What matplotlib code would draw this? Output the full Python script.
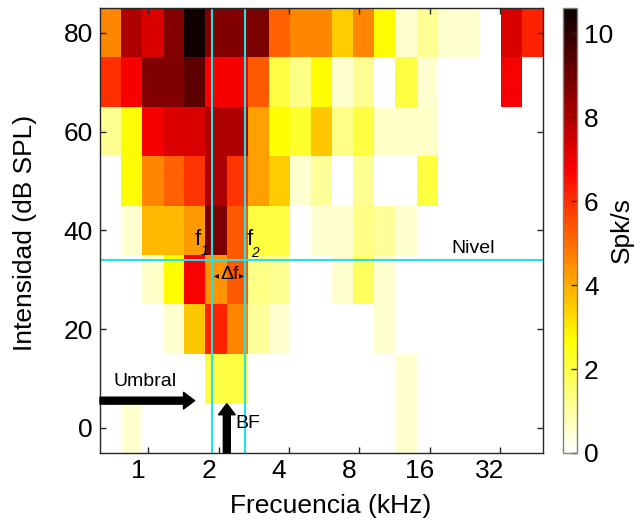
import numpy as np
import matplotlib.pyplot as plt
from matplotlib.ticker import NullLocator
from matplotlib.transforms import ScaledTranslation

plt.rcParams['font.family'] = ['Liberation Sans', 'DejaVu Sans']

# tone frequencies (kHz), 0.3 octave apart, and sound levels (dB SPL)
freqs_khz = [0.69, 0.85, 1.05, 1.29, 1.58, 1.95, 2.40, 2.96, 3.64, 4.48, 5.51,
             6.79, 8.36, 10.3, 12.7, 15.6, 19.2, 23.6, 29.1, 35.8, 44.1]
levels_db = [0, 10, 20, 30, 40, 50, 60, 70, 80]

# firing rate (spikes/s) at each level, one value per frequency
rate_0db = [0, 0.5, 0, 0, 0, 0, 0, 0, 0, 0, 0, 0, 0, 0, 0.5, 0, 0, 0, 0, 0, 0]
rate_10db = [0, 0, 0, 0, 0, 2.0, 2.0, 0, 0, 0, 0, 0, 0, 0, 0.5, 0, 0, 0, 0, 0, 0]
rate_20db = [0, 0, 0, 0.5, 3.6, 6.2, 4.6, 1.1, 0.5, 0, 0, 0, 0, 0.5, 0, 0, 0, 0, 0, 0, 0]
rate_30db = [0, 0, 0.6, 2.7, 6.8, 4.4, 5.3, 1.3, 1.2, 0, 0, 0.5, 1.7, 0.5, 0, 0, 0, 0, 0, 0, 0]
rate_40db = [0, 0.5, 3.8, 3.8, 4.3, 8.8, 5.3, 2.0, 2.0, 0, 0.5, 0.5, 1.3, 1.1, 0.5, 0, 0, 0, 0, 0, 0]
rate_50db = [0, 2.7, 4.6, 5.2, 5.9, 8.0, 5.9, 4.2, 3.5, 0.5, 1.1, 0, 1.2, 0, 0, 2.0, 0, 0, 0, 0, 0]
rate_60db = [1.2, 2.7, 6.8, 7.3, 7.3, 8.0, 8.0, 4.2, 2.7, 2.2, 3.6, 1.3, 2.0, 0.6, 0.6, 0.6, 0, 0, 0, 0, 0]
rate_70db = [6.0, 6.8, 8.7, 8.7, 9.3, 6.8, 6.8, 5.3, 2.0, 1.3, 2.7, 0.5, 1.2, 0, 2.0, 0.5, 0, 0, 0, 6.8, 0]
rate_80db = [4.6, 8.0, 7.3, 8.7, 10.5, 8.7, 8.7, 8.8, 5.2, 4.6, 4.6, 3.5, 4.6, 2.7, 0.5, 1.2, 0.5, 0.5, 0, 7.3, 6.2]

# bandwidth markers
f1_khz, f2_khz = 1.88, 2.59
nivel_db = 34
bf_khz = 2.17
umbral_db = 5.5

rates = np.array([rate_0db, rate_10db, rate_20db, rate_30db, rate_40db,
                  rate_50db, rate_60db, rate_70db, rate_80db])

# cell edges: geometric midpoints between frequencies, 5 dB around each level
log_f = np.log2(freqs_khz)
mids = (log_f[:-1] + log_f[1:]) / 2
x_edges = 2 ** np.concatenate([[2 * log_f[0] - mids[0]], mids, [2 * log_f[-1] - mids[-1]]])
lv = np.array(levels_db, dtype=float)
y_edges = np.concatenate([[lv[0] - 5], (lv[:-1] + lv[1:]) / 2, [lv[-1] + 5]])

fig = plt.figure(figsize=(6.43, 5.32), dpi=100)
ax = fig.add_axes([0.1555, 0.1494, 0.689, 0.8355])
cax = fig.add_axes([0.8756, 0.1485, 0.0218, 0.8365])

mesh = ax.pcolormesh(x_edges, y_edges, rates, cmap='hot_r', vmin=0, vmax=10.6)
ax.set_xscale('log', base=2)
ax.set_xlim(x_edges[0], x_edges[-1])
ax.set_ylim(y_edges[0], y_edges[-1])

ax.set_xticks([1, 2, 4, 8, 16, 32])
ax.set_xticklabels(['1', '2', '4', '8', '16', '32'])
ax.xaxis.set_minor_locator(NullLocator())
ax.set_yticks([0, 20, 40, 60, 80])
ax.tick_params(direction='in', length=4, width=1, top=True, right=True,
               labelsize=19, pad=5, colors='#262626', labelcolor='black')
# frequency labels sit a little left of their ticks
shift = ScaledTranslation(-0.10, 0, fig.dpi_scale_trans)
for lab in ax.get_xticklabels():
    lab.set_transform(lab.get_transform() + shift)
for sp in ax.spines.values():
    sp.set_linewidth(1.0)
    sp.set_color('#262626')

ax.set_xlabel('Frecuencia (kHz)', fontsize=19)
ax.xaxis.set_label_coords(0.52, -0.093)
ax.set_ylabel('Intensidad (dB SPL)', fontsize=19)
ax.yaxis.set_label_coords(-0.143, 0.494)

# bandwidth lines
cyan = '#22e2ea'
ax.axvline(f1_khz, color=cyan, lw=1.5)
ax.axvline(f2_khz, color=cyan, lw=1.5)
ax.axhline(nivel_db, color=cyan, lw=1.5)

ax.text(1.63, 38.2, 'f', fontsize=16, ha='center', va='center')
ax.text(1.75, 35.9, '1', fontsize=10, style='italic', ha='center', va='center')
ax.text(2.72, 38.2, 'f', fontsize=16, ha='center', va='center')
ax.text(2.87, 35.3, '2', fontsize=10, style='italic', ha='center', va='center')
ax.text(2.22, 31.0, 'Δf', fontsize=14, ha='center', va='center')
ax.text(1.96, 31.0, '◂', fontsize=7, ha='center', va='center', family='DejaVu Sans')
ax.text(2.50, 31.0, '▸', fontsize=7, ha='center', va='center', family='DejaVu Sans')
ax.text(24.6, 36.3, 'Nivel', fontsize=14, ha='center', va='center')

# threshold and best-frequency arrows
arrow = dict(facecolor='black', edgecolor='black', width=5, headwidth=12,
             headlength=8, shrink=0)
ax.annotate('', xy=(1.58, umbral_db), xytext=(x_edges[0], umbral_db),
            arrowprops=arrow, annotation_clip=False)
ax.annotate('', xy=(bf_khz, 4.9), xytext=(bf_khz, y_edges[0]),
            arrowprops=arrow, annotation_clip=False)
ax.text(0.713, 9.3, 'Umbral', fontsize=14, ha='left', va='center')
ax.text(2.35, 0.8, 'BF', fontsize=14, ha='left', va='center')

cbar = fig.colorbar(mesh, cax=cax, ticks=[0, 2, 4, 6, 8, 10])
cbar.outline.set_edgecolor('#808080')
cbar.outline.set_linewidth(1.0)
cax.tick_params(direction='in', length=4, width=1, labelsize=19, pad=5,
                colors='#262626', labelcolor='black')
cbar.set_label('Spk/s', fontsize=19)
cax.yaxis.set_label_coords(3.35, 0.5)

fig.savefig('out.png', dpi=100)
